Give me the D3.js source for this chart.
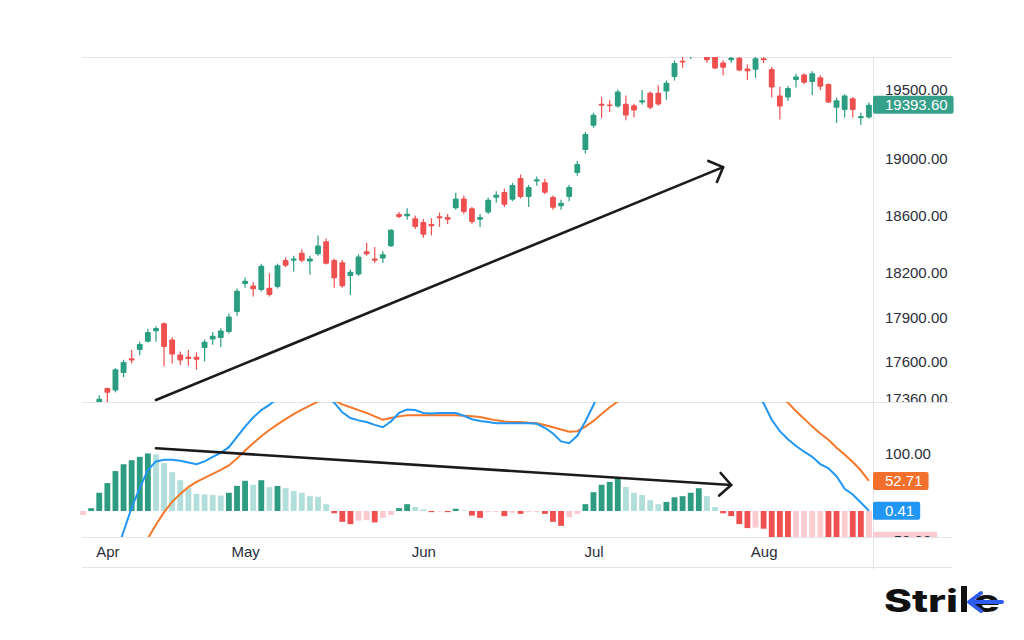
<!DOCTYPE html>
<html>
<head>
<meta charset="utf-8">
<script src="https://cdn.jsdelivr.net/npm/d3@7"></script>
<style>
  body { margin: 0; background: #fff; }
  svg { display: block; font-family: "Liberation Sans", Arial, sans-serif; }
</style>
</head>
<body>
<svg id="chart" width="1024" height="640"></svg>
<script>
// trading days, 28 Mar - 21 Aug (MM-DD)
var dates = ["03-28", "03-29", "03-31",
    "04-03", "04-05", "04-06", "04-10", "04-11", "04-12", "04-13", "04-17", "04-18", "04-19",
    "04-20", "04-21", "04-24", "04-25", "04-26", "04-27", "04-28",
    "05-02", "05-03", "05-04", "05-05", "05-08", "05-09", "05-10", "05-11", "05-12", "05-15",
    "05-16", "05-17", "05-18", "05-19", "05-22", "05-23", "05-24", "05-25", "05-26", "05-29",
    "05-30", "05-31",
    "06-01", "06-02", "06-05", "06-06", "06-07", "06-08", "06-09", "06-12", "06-13", "06-14",
    "06-15", "06-16", "06-19", "06-20", "06-21", "06-22", "06-23", "06-26", "06-27", "06-28",
    "06-30",
    "07-03", "07-04", "07-05", "07-06", "07-07", "07-10", "07-11", "07-12", "07-13", "07-14",
    "07-17", "07-18", "07-19", "07-20", "07-21", "07-24", "07-25", "07-26", "07-27", "07-28",
    "07-31",
    "08-01", "08-02", "08-03", "08-04", "08-07", "08-08", "08-09", "08-10", "08-11", "08-14",
    "08-16", "08-17", "08-18", "08-21"];

var opens = [16980, 16977, 17210, 17428, 17412, 17527, 17625, 17680, 17735, 17805,
    17860, 17750, 17650, 17635, 17635, 17693, 17750, 17760, 17800, 17935,
    18125, 18115, 18085, 18100, 18105, 18290, 18285, 18340, 18280, 18330,
    18420, 18290, 18275, 18180, 18190, 18350, 18300, 18300, 18385, 18610,
    18595, 18580, 18555, 18540, 18595, 18590, 18650, 18720, 18650, 18570,
    18620, 18725, 18765, 18710, 18865, 18730, 18840, 18835, 18730, 18665,
    18730, 18900, 19065, 19240, 19400, 19395, 19380, 19400, 19390, 19410,
    19480, 19480, 19490, 19597, 19718, 19750, 19830, 19800, 19760, 19705,
    19720, 19740, 19660, 19650, 19735, 19655, 19460, 19445, 19575, 19615,
    19560, 19595, 19545, 19370, 19355, 19440, 19295, 19300];
var highs = [17062, 17126, 17381, 17430, 17560, 17615, 17680, 17735, 17820, 17840,
    17865, 17765, 17670, 17680, 17665, 17750, 17800, 17825, 17925, 18095,
    18170, 18140, 18265, 18200, 18265, 18310, 18320, 18365, 18320, 18460,
    18440, 18300, 18290, 18225, 18330, 18410, 18380, 18350, 18505, 18625,
    18650, 18600, 18575, 18580, 18620, 18610, 18760, 18740, 18660, 18610,
    18725, 18770, 18790, 18830, 18890, 18815, 18875, 18860, 18740, 18710,
    18815, 18985, 19195, 19335, 19450, 19425, 19505, 19460, 19400, 19500,
    19490, 19535, 19570, 19720, 19745, 19850, 19990, 19890, 19800, 19720,
    19780, 19760, 19690, 19745, 19760, 19670, 19525, 19530, 19620, 19625,
    19640, 19610, 19550, 19445, 19470, 19450, 19335, 19410];
var lows = [16915, 16940, 17205, 17316, 17400, 17500, 17590, 17645, 17730, 17735,
    17570, 17590, 17580, 17575, 17550, 17605, 17715, 17700, 17790, 17910,
    18100, 18040, 18075, 18040, 18095, 18240, 18210, 18275, 18190, 18320,
    18260, 18100, 18100, 18050, 18180, 18320, 18270, 18270, 18380, 18580,
    18570, 18505, 18445, 18460, 18520, 18540, 18640, 18610, 18540, 18520,
    18610, 18690, 18660, 18700, 18720, 18660, 18810, 18750, 18640, 18640,
    18700, 18880, 19040, 19225, 19295, 19340, 19370, 19280, 19300, 19395,
    19360, 19385, 19430, 19570, 19665, 19730, 19820, 19700, 19655, 19610,
    19700, 19640, 19575, 19590, 19700, 19445, 19285, 19420, 19520, 19545,
    19465, 19500, 19405, 19260, 19300, 19300, 19245, 19290];
var closes = [16951, 17080, 17359, 17398, 17552, 17600, 17610, 17720, 17800, 17828,
    17700, 17650, 17610, 17620, 17615, 17735, 17775, 17810, 17905, 18080,
    18148, 18090, 18250, 18050, 18255, 18250, 18300, 18285, 18300, 18390,
    18265, 18165, 18110, 18210, 18315, 18330, 18285, 18330, 18500, 18590,
    18612, 18520, 18465, 18525, 18580, 18570, 18720, 18625, 18555, 18590,
    18710, 18745, 18675, 18815, 18730, 18800, 18855, 18760, 18655, 18690,
    18800, 18965, 19180, 19320, 19385, 19388, 19490, 19315, 19350, 19425,
    19370, 19395, 19555, 19700, 19705, 19830, 19980, 19720, 19660, 19665,
    19740, 19645, 19640, 19735, 19720, 19520, 19380, 19515, 19600, 19555,
    19625, 19525, 19410, 19425, 19460, 19355, 19310, 19393.60];

// MACD (12, 26, 9)
var macdLine = [-190, -172, -145, -113, -78, -36, 6, 40, 72, 87,
    90, 90, 88, 85, 82, 87, 95, 102, 112, 130,
    148, 164, 177, 186, 198, 210, 218, 222, 220, 212,
    200, 190, 173, 163, 159, 156, 151, 147, 157, 172,
    178, 177, 172, 171, 172, 172, 172, 167, 161, 158,
    156, 154, 154, 154, 154, 154, 153, 146, 136, 122,
    119, 132, 157, 186, 215, 240, 262, 280, 294, 305,
    312, 318, 322, 326, 330, 332, 330, 318, 300, 282,
    262, 240, 222, 205, 189, 160, 140, 126, 114, 104,
    95, 82, 75, 61, 39, 29, 15, 0.41];
var signalLine = [-232, -218, -200, -178, -155, -128, -100, -72, -48, -24,
    -2, 16, 30, 42, 51, 58, 65, 72, 80, 92,
    106, 119, 131, 142, 152, 161, 170, 178, 185, 192,
    196, 194, 187, 182, 177, 172, 166, 160, 163, 166,
    168, 168, 168, 168, 168, 168, 168, 167, 166, 165,
    162, 159, 157, 156, 156, 155, 154, 151, 147, 143,
    139, 140, 148, 158, 170, 182, 192, 205, 218, 230,
    242, 252, 262, 270, 278, 284, 290, 292, 293, 288,
    278, 266, 252, 234, 220, 210, 200, 190, 175, 162,
    148, 136, 125, 111, 99, 86, 71, 52.71];
var histogram = [-7, 5, 32, 49, 70, 82, 89, 95, 101, 99,
    84, 68, 54, 40, 30, 29, 28, 27, 32, 44,
    53, 46, 54, 42, 44, 40, 35, 32, 26, 25,
    12, -4, -19, -23, -17, -16, -20, -12, -7, 5,
    12, 7, 3, -2, -1, -2, 4, 1, -8, -12,
    -2, -1.5, -9, -3, -5, -2, -1.5, -5, -19, -26,
    -11, -5, 12, 33, 46, 51, 58, 42, 32, 28,
    19, 12, 16, 24, 26, 32, 40, 26, 7, -4,
    -9, -23, -30, -29, -31, -55, -62, -70, -66, -62,
    -58, -53, -57, -61, -58, -61, -64, -52.30];

var priceTicks = [17360, 17600, 17900, 18200, 18600, 19000, 19500];
var macdTicks = [100];
var monthLabels = ["Apr", "May", "Jun", "Jul", "Aug"];

// hand drawn trend lines: [date, value]
var trendArrows = [
    { pane: "price", from: ["04-13", 17350], to: ["07-25", 18942] },
    { pane: "macd", from: ["04-13", 110], to: ["07-26", 45.6] }
];

var plotLeft = 82, axisX = 873, plotRight = 952,
    plotTop = 57, priceBottom = 402, macdBottom = 537, plotBottom = 567;

var svg = d3.select("#chart");
var defs = svg.append("defs");

function clip(id, x, y, w, h) {
    defs.append("clipPath").attr("id", id)
        .append("rect").attr("x", x).attr("y", y).attr("width", w).attr("height", h);
}
clip("clipPrice", 80, plotTop, axisX - 80, priceBottom - plotTop);
clip("clipMacd", 80, priceBottom, axisX - 80, macdBottom - priceBottom);
clip("clipPriceAxis", axisX, plotTop, 100, priceBottom - plotTop);
clip("clipMacdAxis", axisX, priceBottom, 100, macdBottom - priceBottom);

var x = d3.scalePoint()
    .domain(dates)
    .range([79, axisX])
    .padding(0.5);

var y = d3.scaleLog()
    .domain([17337, 19745])
    .range([priceBottom, plotTop]);

var yM = d3.scaleLinear()
    .domain([-45.6, 191.2])
    .range([macdBottom, priceBottom]);

var bw = x.step() * 0.72;

var upColor = "#2b9e81", downColor = "#ef4f4f";

// frame lines
var grid = "#e3e5ea";
[plotTop, priceBottom, macdBottom, plotBottom].forEach(function (yy) {
    svg.append("line")
        .attr("x1", plotLeft).attr("x2", plotRight)
        .attr("y1", yy + 0.5).attr("y2", yy + 0.5)
        .attr("stroke", grid);
});
svg.append("line")
    .attr("x1", axisX + 0.5).attr("x2", axisX + 0.5)
    .attr("y1", plotTop).attr("y2", plotBottom + 3)
    .attr("stroke", grid);

// candles
var candles = svg.append("g").attr("clip-path", "url(#clipPrice)")
    .selectAll("g")
    .data(dates)
    .enter().append("g");

candles.append("line")
    .attr("x1", function (d) { return x(d); })
    .attr("x2", function (d) { return x(d); })
    .attr("y1", function (d, i) { return y(highs[i]); })
    .attr("y2", function (d, i) { return y(lows[i]); })
    .attr("stroke", function (d, i) { return closes[i] >= opens[i] ? upColor : downColor; })
    .attr("stroke-width", 1.2);

candles.append("rect")
    .attr("x", function (d) { return x(d) - bw / 2; })
    .attr("width", bw)
    .attr("y", function (d, i) { return y(Math.max(opens[i], closes[i])); })
    .attr("height", function (d, i) {
        return Math.max(1.5, y(Math.min(opens[i], closes[i])) - y(Math.max(opens[i], closes[i])));
    })
    .attr("rx", 1)
    .attr("fill", function (d, i) { return closes[i] >= opens[i] ? upColor : downColor; });

// macd pane
var macdG = svg.append("g").attr("clip-path", "url(#clipMacd)");

function histColor(h, i) {
    var prev = i ? histogram[i - 1] : -Infinity;
    if (h >= 0) return h > prev ? "#2e9c80" : "#b2dfdb";
    return h > prev ? "#fccbd0" : "#ef4f4f";
}

macdG.selectAll("rect")
    .data(histogram)
    .enter().append("rect")
    .attr("x", function (d, i) { return x(dates[i]) - bw / 2; })
    .attr("width", bw)
    .attr("y", function (d) { return Math.min(yM(d), yM(0)); })
    .attr("height", function (d) { return Math.abs(yM(d) - yM(0)); })
    .attr("fill", histColor);

var line = d3.line()
    .x(function (d, i) { return x(dates[i]); })
    .y(function (d) { return yM(d); });

macdG.append("path")
    .attr("d", line(signalLine))
    .attr("fill", "none")
    .attr("stroke", "#f5782a")
    .attr("stroke-width", 2);

macdG.append("path")
    .attr("d", line(macdLine))
    .attr("fill", "none")
    .attr("stroke", "#2196f3")
    .attr("stroke-width", 2);

// trend arrows
trendArrows.forEach(function (a) {
    var sy = a.pane === "price" ? y : yM;
    var x1 = x(a.from[0]), y1 = sy(a.from[1]),
        x2 = x(a.to[0]), y2 = sy(a.to[1]);
    var ang = Math.atan2(y2 - y1, x2 - x1) + Math.PI;
    var len = 16;
    var g = svg.append("g")
        .attr("stroke", "#1b1b1b")
        .attr("stroke-width", 2.6)
        .attr("stroke-linecap", "round")
        .attr("fill", "none");
    g.append("line").attr("x1", x1).attr("y1", y1).attr("x2", x2).attr("y2", y2);
    g.append("path")
        .attr("stroke-linejoin", "round")
        .attr("d", "M" + (x2 + len * Math.cos(ang + Math.PI / 4)) + "," + (y2 + len * Math.sin(ang + Math.PI / 4)) +
            "L" + x2 + "," + y2 +
            "L" + (x2 + len * Math.cos(ang - Math.PI / 4)) + "," + (y2 + len * Math.sin(ang - Math.PI / 4)));
});

// right axes
function styleAxis(g) {
    g.select(".domain").remove();
    g.selectAll("text")
        .attr("fill", "#2a2e39")
        .style("font-size", "15px")
        .style("font-family", "'Liberation Sans', Arial, sans-serif");
}

svg.append("g")
    .attr("clip-path", "url(#clipPriceAxis)")
    .append("g")
    .attr("transform", "translate(" + axisX + ",0)")
    .call(d3.axisRight(y).tickValues(priceTicks).tickSize(0).tickPadding(12).tickFormat(d3.format(".2f")))
    .call(styleAxis);

svg.append("g")
    .attr("clip-path", "url(#clipMacdAxis)")
    .append("g")
    .attr("transform", "translate(" + axisX + ",0)")
    .call(d3.axisRight(yM).tickValues(macdTicks).tickSize(0).tickPadding(12).tickFormat(d3.format(".2f")))
    .call(styleAxis);

// last value labels
function valueLabel(parent, yy, value, bg, fg) {
    var g = parent.append("g").attr("transform", "translate(" + axisX + "," + yy + ")");
    var r = g.append("rect").attr("y", -9).attr("height", 18).attr("rx", 2).attr("fill", bg);
    var t = g.append("text")
        .attr("x", 12).attr("dy", "0.36em")
        .attr("fill", fg)
        .style("font-size", "15px")
        .text(d3.format(".2f")(value));
    r.attr("width", t.node().getComputedTextLength() + 18);
}

var last = dates.length - 1;
valueLabel(svg.append("g").attr("clip-path", "url(#clipPriceAxis)"), y(closes[last]), closes[last], "#36a08a", "#fff");

var macdLabels = svg.append("g").attr("clip-path", "url(#clipMacdAxis)");
valueLabel(macdLabels, yM(histogram[last]), histogram[last], "#fccbd0", "#2a2e39");
valueLabel(macdLabels, yM(signalLine[last]), signalLine[last], "#f26f2c", "#fff");
valueLabel(macdLabels, yM(macdLine[last]), macdLine[last], "#2196f3", "#fff");

// time axis
var monthStarts = dates.filter(function (d, i) {
    return i > 0 && d.slice(0, 2) !== dates[i - 1].slice(0, 2);
});

svg.append("g")
    .attr("transform", "translate(0," + macdBottom + ")")
    .call(d3.axisBottom(x).tickValues(monthStarts).tickSize(0).tickPadding(9.5)
        .tickFormat(function (d, i) { return monthLabels[i]; }))
    .call(styleAxis);

// logo
var logo = svg.append("g").attr("transform", "translate(884,612)");
logo.append("text")
    .attr("x", 0).attr("y", 0)
    .attr("textLength", 74)
    .attr("lengthAdjust", "spacingAndGlyphs")
    .style("font-family", "Inter, 'DejaVu Sans', sans-serif")
    .style("font-weight", 800)
    .style("font-size", "31px")
    .attr("fill", "#111")
    .text("Stri");
logo.append("rect")
    .attr("x", 77).attr("y", -26).attr("width", 6).attr("height", 26)
    .attr("fill", "#111");
logo.append("text")
    .attr("x", 89).attr("y", 0)
    .attr("textLength", 27)
    .attr("lengthAdjust", "spacingAndGlyphs")
    .style("font-family", "Inter, 'DejaVu Sans', sans-serif")
    .style("font-weight", 800)
    .style("font-size", "31px")
    .attr("fill", "#111")
    .text("e");
logo.append("path")
    .attr("d", "M97,-19L85,-10L97,-1M86,-10L118,-10")
    .attr("fill", "none")
    .attr("stroke", "#2f5cf0")
    .attr("stroke-width", 4)
    .attr("stroke-linecap", "round")
    .attr("stroke-linejoin", "round");
</script>
</body>
</html>
